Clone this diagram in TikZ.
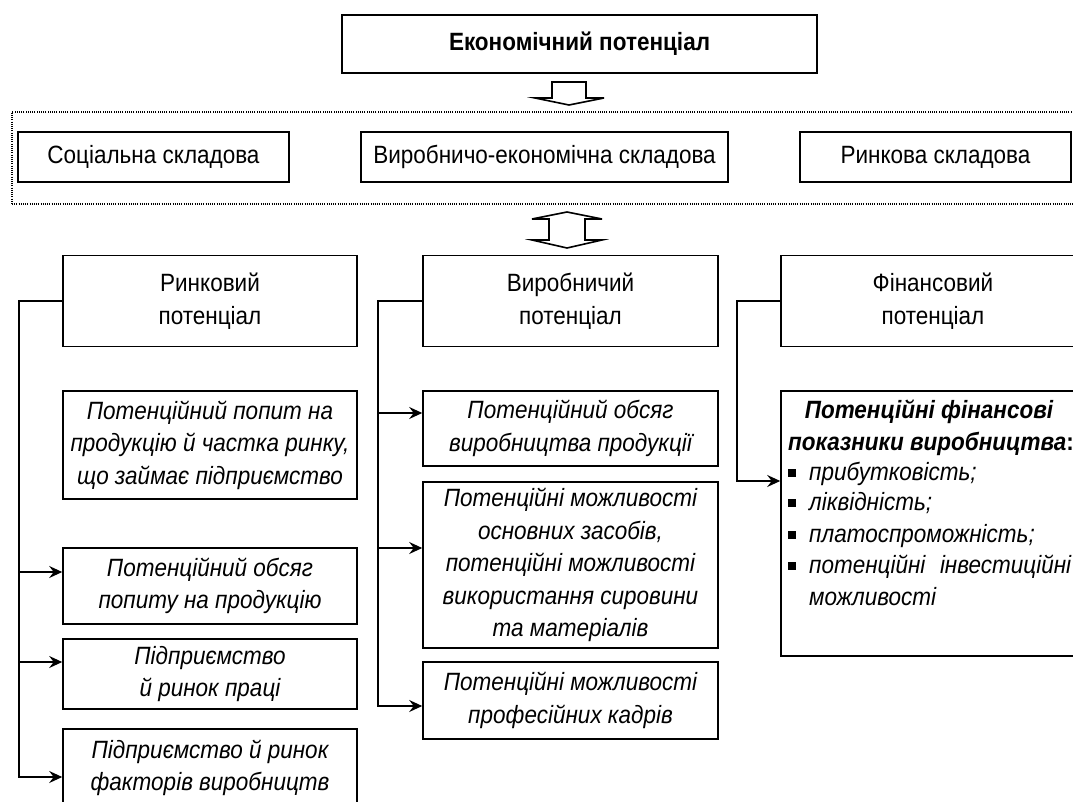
\documentclass[tikz,border=0pt]{standalone}
\usepackage{fontspec}
\setmainfont{Liberation Sans}[FakeStretch=0.9]
\usetikzlibrary{arrows.meta}
\begin{document}
\begin{tikzpicture}[x=1pt,y=-1pt,
  box/.style={draw, line width=1.6pt, align=center, inner sep=0pt,
    font=\fontsize{25}{32.5}\selectfont},
  itbox/.style={box, font=\fontsize{25}{32.5}\selectfont\itshape},
  txt/.style={inner sep=0pt, font=\fontsize{25}{32.5}\selectfont},
  conn/.style={line width=1.3pt},
  arr/.style={line width=1.3pt, -{Stealth[length=13pt,width=12pt,inset=4.5pt]}},
  hollow/.style={draw, line width=1.6pt, line join=miter, fill=white},
  grpbox/.style={draw, line width=1.1pt, dash pattern=on 1pt off 1.2pt, inner sep=0pt},
  bul/.style={fill=black, inner sep=0pt, minimum size=8pt}
]
\useasboundingbox (0,0) rectangle (1073,802);
\clip (0,0) rectangle (1073,802);
\fill[white] (0,0) rectangle (1073,802);

% top
\node[box, font=\fontsize{25}{32.5}\selectfont\bfseries, minimum width=475pt, minimum height=58pt] (eco) at (579.5,44) {Економічний потенціал};
\draw[hollow] (552,82) -- (586,82) -- (586,98) -- (604,98) -- (569,105) -- (535,98) -- (552,98) -- cycle;

% group of components
\node[grpbox, minimum width=1080pt, minimum height=92pt] (grp) at (552,158) {};
\node[box, minimum width=271pt, minimum height=50pt] (soc) at (153.5,157) {Соціальна складова};
\node[box, minimum width=367pt, minimum height=50pt] (vyr) at (544.5,157) {Виробничо-економічна складова};
\node[box, minimum width=271pt, minimum height=50pt] (rynk) at (935.5,157) {Ринкова складова};

\draw[hollow] (567,212) -- (602,219) -- (585,219) -- (585,240) -- (602,240) -- (567,248) -- (532,240) -- (549,240) -- (549,219) -- (532,219) -- cycle;

% column headers
\node[box, minimum width=294pt, minimum height=91pt] (rp) at (210,301) {Ринковий\\потенціал};
\node[box, minimum width=295pt, minimum height=91pt] (vp) at (570.5,301) {Виробничий\\потенціал};
\node[box, minimum width=304pt, minimum height=91pt] (fp) at (933,301) {Фінансовий\\потенціал};

% left column
\node[itbox, minimum width=294pt, minimum height=108pt] (l1) at (210,445) {Потенційний попит на\\продукцію й частка ринку,\\що займає підприємство};
\node[itbox, minimum width=294pt, minimum height=76pt] (l2) at (210,586) {Потенційний обсяг\\попиту на продукцію};
\node[itbox, minimum width=294pt, minimum height=70pt] (l3) at (210,674) {Підприємство\\й ринок праці};
\node[itbox, minimum width=294pt, minimum height=78pt] (l4) at (210,768) {Підприємство й ринок\\факторів виробництв};

% middle column
\node[itbox, minimum width=295pt, minimum height=75pt] (m1) at (570.5,428.5) {Потенційний обсяг\\виробництва продукції};
\node[itbox, minimum width=295pt, minimum height=166pt] (m2) at (570.5,565) {Потенційні можливості\\основних засобів,\\потенційні можливості\\використання сировини\\та матеріалів};
\node[itbox, minimum width=295pt, minimum height=77pt] (m3) at (570.5,700.5) {Потенційні можливості\\професійних кадрів};

% right column
\node[box, minimum width=304pt, minimum height=265pt] (f1) at (933,523.5) {};
\node[txt, anchor=base, font=\fontsize{25}{32.5}\selectfont\bfseries\itshape] (fh1) at (929,418) {Потенційні фінансові};
\node[txt, anchor=base, font=\fontsize{25}{32.5}\selectfont\bfseries\itshape] (fh2) at (931,450) {показники виробництва\upshape:};
\node[bul] (b1) at (792,473) {};
\node[bul] (b2) at (792,503) {};
\node[bul] (b3) at (792,535) {};
\node[bul] (b4) at (792,566) {};
\node[txt, anchor=base west, font=\fontsize{25}{32.5}\selectfont\itshape] (i1) at (809,480) {прибутковість;};
\node[txt, anchor=base west, font=\fontsize{25}{32.5}\selectfont\itshape] (i2) at (809,510) {ліквідність;};
\node[txt, anchor=base west, font=\fontsize{25}{32.5}\selectfont\itshape] (i3) at (809,542) {платоспроможність;};
\node[txt, anchor=base west, font=\fontsize{25}{32.5}\selectfont\itshape] (i4) at (809,573) {\makebox[262pt][l]{потенційні\hfill інвестиційні}};
\node[txt, anchor=base west, font=\fontsize{25}{32.5}\selectfont\itshape] (i5) at (809,605) {можливості};

% connectors
\draw[arr] (rp.west) -- (19,301) -- (19,777) -- (l4.west |- 0,777);
\draw[arr] (19,572) -- (l2.west |- 0,572);
\draw[arr] (19,662) -- (l3.west |- 0,662);

\draw[arr] (vp.west) -- (378,301) -- (378,706) -- (m3.west |- 0,706);
\draw[arr] (378,413) -- (m1.west |- 0,413);
\draw[arr] (378,548) -- (m2.west |- 0,548);

\draw[arr] (fp.west) -- (737,301) -- (737,481) -- (f1.west |- 0,481);
\end{tikzpicture}
\end{document}
